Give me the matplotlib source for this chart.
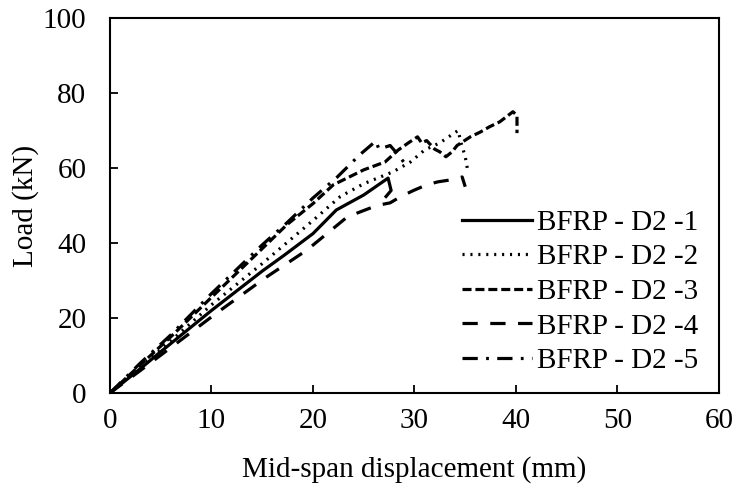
import numpy as np
import matplotlib
matplotlib.use("Agg")
import matplotlib.pyplot as plt

plt.rcParams['font.family'] = ['Liberation Serif', 'DejaVu Serif']
plt.rcParams['lines.scale_dashes'] = False

# load-displacement readings, BFRP D2 specimens
disp_1 = [0, 3, 5, 10, 15, 17.2, 20, 22.3, 25, 27.4, 27.7, 27.2]
load_1 = [0, 6.5, 11, 22, 32.5, 36.8, 42.5, 48.8, 52.8, 57.3, 54, 52.4]

disp_2 = [0, 3, 5, 10, 15, 20, 22.7, 25, 27.9, 29.6, 31, 32.5, 33.2, 34.3, 34.6, 35.0, 35.2]
load_2 = [0, 7, 11.5, 23.5, 34.5, 46, 52.4, 55.8, 59, 61.6, 64.8, 66.7, 68, 70, 66.6, 63, 60]

disp_3 = [0, 3, 6, 10, 15, 17.4, 20, 22, 25, 27.1, 28.4, 29.4, 30.3, 30.7, 31.2,
          32.0, 32.5, 33.1, 33.7, 34.2, 35.5, 36.5, 37.4, 38.4, 39.7, 40.1, 40.1]
load_3 = [0, 7.5, 15, 25.5, 38.5, 44.8, 50.5, 55.5, 59.5, 61.6, 64.8, 66.7, 68.3, 66.7, 67.3,
          65, 64.3, 63, 64.3, 66, 68.3, 69.6, 71, 72.3, 75, 74, 69.3]

disp_4 = [0, 3, 5.7, 10.5, 15.3, 19.4, 23.4, 26.3, 27.6, 28.6, 29.9, 31.2, 32.3, 33.5, 34.7, 35.0]
load_4 = [0, 6, 11.5, 21.3, 30.7, 38.1, 47, 50, 50.7, 52.3, 54, 55.5, 56.3, 56.8, 57.6, 55]

disp_5 = [0, 3, 6, 10, 15, 17.4, 20, 22.4, 24.6, 26.2, 26.5, 27.6, 28.4, 29.3]
load_5 = [0, 8, 15.5, 26.5, 39.5, 45.3, 52, 57.6, 63.5, 67.2, 65, 66, 63.5, 60.3]

labels = ['BFRP - D2 -1', 'BFRP - D2 -2', 'BFRP - D2 -3', 'BFRP - D2 -4', 'BFRP - D2 -5']

styles = [
    '-',
    (0, (1.5, 4.2)),
    (0, (6.5, 2.8)),
    (0, (11, 9)),
    (0, (11, 6, 2, 6)),
]

fig = plt.figure(figsize=(7.4, 4.9), dpi=100)
ax = fig.add_axes([0.1486, 0.198, 0.823, 0.7653])

curves = [(disp_1, load_1), (disp_2, load_2), (disp_3, load_3), (disp_4, load_4), (disp_5, load_5)]
for (x, y), ls, lab in zip(curves, styles, labels):
    ax.plot(x, y, color='black', linestyle=ls, linewidth=2.3, label=lab)

ax.set_xlim(0, 60)
ax.set_ylim(0, 100)
ax.set_xticks(np.arange(0, 61, 10))
ax.set_yticks(np.arange(0, 101, 20))

fs = 21
ax.tick_params(axis='both', direction='in', length=6, width=1.3, labelsize=fs)
ax.tick_params(axis='x', pad=11)
ax.tick_params(axis='y', pad=17)
for s in ax.spines.values():
    s.set_linewidth(1.5)

ax.set_xlabel('Mid-span displacement (mm)', fontsize=fs, labelpad=16)
ax.set_ylabel('Load (kN)', fontsize=fs, labelpad=3)

ax.legend(loc='center left', bbox_to_anchor=(0.578, 0.27), frameon=False,
          fontsize=fs, handlelength=2.4, handletextpad=0.17, labelspacing=0.28,
          borderpad=0, borderaxespad=0)

fig.savefig('out.png', dpi=100)
